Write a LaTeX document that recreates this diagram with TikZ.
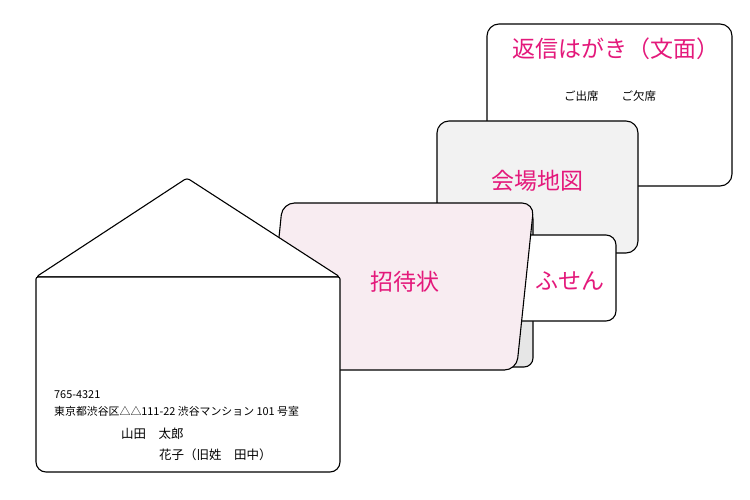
\documentclass[tikz,border=0pt]{standalone}
\usepackage{fontspec}
\setmainfont{Noto Sans CJK JP}
\definecolor{hotpink}{HTML}{E4197B}
\definecolor{pinkfill}{HTML}{F8ECF1}
\definecolor{cardgray}{HTML}{E6E6E6}
\definecolor{mapgray}{HTML}{F2F2F2}
\begin{document}
\begin{tikzpicture}[x=1pt,y=-1pt,
  card/.style={draw=black,line width=1.1pt,rounded corners=12pt,line join=round},
  title/.style={text=hotpink,font=\fontsize{23}{23}\selectfont,inner sep=0pt},
  small/.style={font=\fontsize{10.9}{12}\selectfont,inner sep=0pt,anchor=west},
  names/.style={font=\fontsize{12.5}{14}\selectfont,inner sep=0pt,anchor=west}]
\useasboundingbox (0,0) rectangle (750,500);
% reply card
\draw[card,fill=white] (487,24) rectangle (732,186);
\node[title] (reply) at (616,49) {返信はがき（文面）};
\node[font=\fontsize{11.5}{12}\selectfont,inner sep=0pt] (rsvp) at (610,96) {ご出席　　ご欠席};
% map card
\draw[card,fill=mapgray] (437,121) rectangle (638,253);
\node[title] (map) at (537,181) {会場地図};
% gray card behind invitation
\draw[card,fill=cardgray,rounded corners=9pt] (310,210) rectangle (533,367);
% fusen card
\draw[card,fill=white,rounded corners=10pt] (500,235) rectangle (616,321);
\node[title] (fusen) at (570,281) {ふせん};
% invitation card (tilted)
\draw[card,fill=pinkfill] (282.5,203) -- (534,203) -- (516.5,370) -- (265.5,370) -- cycle;
\node[title] (invite) at (404.5,282) {招待状};
% envelope flap
\draw[card,fill=white,rounded corners=3pt] (36,277) -- (187,178) -- (340,277) -- cycle;
% envelope body
\draw[card,fill=white] (36,290) [rounded corners=2pt] -- (36,277) -- (340,277) -- (340,290) [rounded corners=10pt] -- (340,472) -- (36,472) -- cycle;
\node[small] (zip) at (54,395) {765-4321};
\node[small] (addr) at (54,411) {東京都渋谷区△△111-22 渋谷マンション 101 号室};
\node[names] (groom) at (121,434) {山田　太郎};
\node[names] (bride) at (159,455) {花子（旧姓　田中）};
\end{tikzpicture}
\end{document}
